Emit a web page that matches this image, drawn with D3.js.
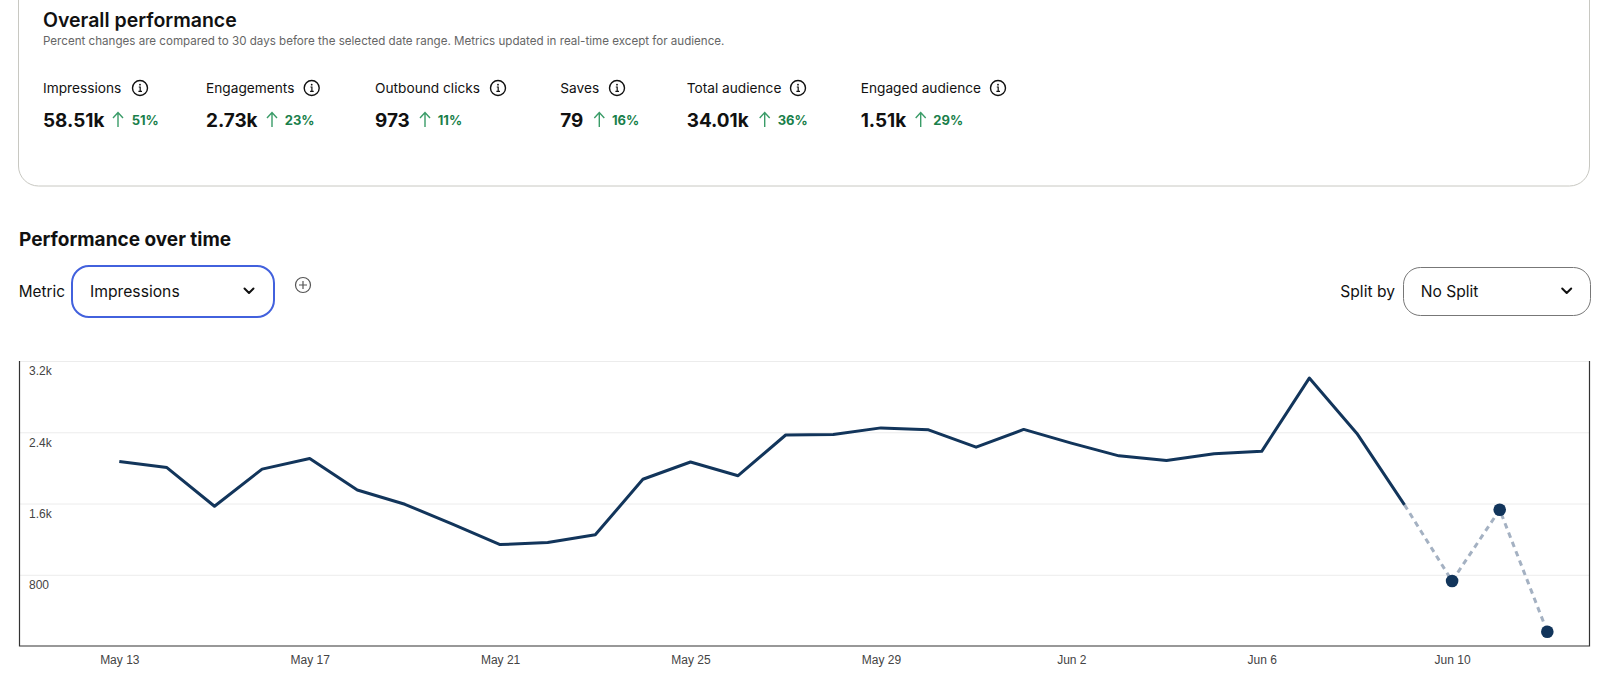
<!DOCTYPE html>
<html><head><meta charset="utf-8">
<script src="https://cdn.jsdelivr.net/npm/d3@7"></script>
<style>
html,body{margin:0;padding:0;background:#fff;overflow:hidden}
svg{display:block}
text{font-family:Inter,"Noto Sans",sans-serif;fill:#111}
.axis text{font-family:"Liberation Sans",Arial,sans-serif;font-size:12px;fill:#444}
</style></head><body>
<svg id="c" width="1599" height="681"></svg>
<script>
// ---- data ----
const kpiLabels=["Impressions","Engagements","Outbound clicks","Saves","Total audience","Engaged audience"];
const kpiValues=["58.51k","2.73k","973","79","34.01k","1.51k"];
const kpiChanges=["51%","23%","11%","16%","36%","29%"];
const days=["May 13","May 14","May 15","May 16","May 17","May 18","May 19","May 20","May 21","May 22","May 23","May 24","May 25","May 26","May 27","May 28","May 29","May 30","May 31","Jun 1","Jun 2","Jun 3","Jun 4","Jun 5","Jun 6","Jun 7","Jun 8","Jun 9","Jun 10","Jun 11","Jun 12"];
const impressions=[2072,2003,1569,1986,2106,1752,1591,1368,1139,1162,1248,1872,2066,1912,2369,2375,2449,2427,2232,2432,2278,2135,2083,2158,2186,3008,2387,1585,730,1530,160];
const settledCount=28; // days with final data; the rest are drawn dashed
const yTicks=[800,1600,2400,3200];
const yTickLabels=["800","1.6k","2.4k","3.2k"];
const xTicks=["May 13","May 17","May 21","May 25","May 29","Jun 2","Jun 6","Jun 10"];

// ---- layout ----
const kpiX=[43,206,375,560.3,686.7,860.7];
const kpiIconX=[140,311.7,498,617,798,998];
const kpiArrowX=[118,272,425,599.3,764.7,920.7];
const kpiPctX=[131.7,284.7,437.7,612,777.7,933.3];
const plot={left:19.5,right:1589.5,top:361,bottom:646};

const svg=d3.select("#c");
const parse=d3.timeParse("%Y %b %-d");
const toDate=s=>parse("2024 "+s);
const fmt=d3.timeFormat("%b %-d");

const x=d3.scaleTime().domain([toDate("May 13"),toDate("Jun 12")]).range([119.3,1547.3]);
const y=d3.scaleLinear().domain([0,3200]).range([plot.bottom,plot.top]);

function tx(s,xp,yp,size,weight,fill,extra){
  const t=svg.append("text").attr("x",xp).attr("y",yp).attr("font-size",size).attr("font-weight",weight).style("fill",fill).attr("dominant-baseline","central").text(s);
  if(extra)t.style("letter-spacing",extra);
  return t;
}
function chevron(cx,cy){
  svg.append("path").attr("d",`M${cx-4.5},${cy-2.5}L${cx},${cy+2}L${cx+4.5},${cy-2.5}`).attr("fill","none").attr("stroke","#111").attr("stroke-width",2).attr("stroke-linecap","round").attr("stroke-linejoin","round");
}
function info(cx,cy){
  svg.append("circle").attr("cx",cx).attr("cy",cy).attr("r",7.5).attr("fill","none").attr("stroke","#111").attr("stroke-width",1.4);
  svg.append("path").attr("d",`M${cx-1.2},${cy-1}H${cx+.2}V${cy+3.4}M${cx-1.6},${cy+3.4}H${cx+2}`).attr("fill","none").attr("stroke","#111").attr("stroke-width",1.2);
  svg.append("circle").attr("cx",cx).attr("cy",cy-3.3).attr("r",.9).attr("fill","#111");
}

// card
svg.append("rect").attr("x",18.5).attr("y",-40).attr("width",1571).attr("height",226).attr("rx",20).attr("fill","#fff").attr("stroke","#c8c8c2").attr("stroke-width",1);

tx("Overall performance",43,20,19.5,600,"#111");
tx("Percent changes are compared to 30 days before the selected date range. Metrics updated in real-time except for audience.",43,41,11.6,400,"#666");

kpiLabels.forEach((l,i)=>{
  tx(l,kpiX[i],87.5,13.7,400,"#111");
  info(kpiIconX[i],88);
  tx(kpiValues[i],kpiX[i],120,18.9,700,"#111");
  const ax=kpiArrowX[i];
  svg.append("path").attr("d",`M${ax},127V113M${ax-5},118L${ax},112.5L${ax+5},118`).attr("fill","none").attr("stroke","#3a9c68").attr("stroke-width",1.4);
  tx(kpiChanges[i],kpiPctX[i],119.5,13,700,"#1a7f4b");
});

tx("Performance over time",19,239,19,700,"#111");
tx("Metric",18.7,291,15.3,400,"#111");
svg.append("rect").attr("x",72).attr("y",266).attr("width",202).attr("height",51).attr("rx",17).attr("fill","#fff").attr("stroke","#4261dd").attr("stroke-width",2);
tx("Impressions",90,291,15.7,400,"#111");
chevron(249,291);
svg.append("circle").attr("cx",303).attr("cy",285).attr("r",7.5).attr("fill","none").attr("stroke","#555").attr("stroke-width",1.2);
svg.append("path").attr("d","M299,285H307M303,281V289").attr("stroke","#555").attr("stroke-width",1.2);

tx("Split by",1340.3,291,15.6,400,"#111");
svg.append("rect").attr("x",1403.5).attr("y",267.5).attr("width",187).attr("height",48).attr("rx",17).attr("fill","#fff").attr("stroke","#777").attr("stroke-width",1);
tx("No Split",1420.7,291,15.6,400,"#111");
chevron(1566.7,291);

// y axis with gridlines and labels inside the plot
const yAxis=d3.axisRight(y).tickValues(yTicks).tickSize(plot.right-plot.left)
  .tickFormat(d=>yTickLabels[yTicks.indexOf(d)]);
const gy=svg.append("g").attr("class","axis").attr("transform",`translate(${plot.left},0)`).call(yAxis);
gy.select(".domain").remove();
gy.selectAll(".tick line").attr("stroke","#ececec");
gy.selectAll(".tick text").attr("x",9.5).attr("dy",0).attr("y",d=>d===3200?9:10).attr("text-anchor","start").attr("dominant-baseline","central");

// x axis
const xAxis=d3.axisBottom(x).tickValues(xTicks.map(toDate)).tickSize(0).tickPadding(0).tickFormat(fmt);
const gx=svg.append("g").attr("class","axis").attr("transform",`translate(0,${plot.bottom})`).call(xAxis);
gx.select(".domain").remove();
gx.selectAll(".tick text").attr("y",13.5).attr("dy",0).attr("dominant-baseline","central");

// frame
svg.append("path").attr("d",`M${plot.left},${plot.top}V${plot.bottom}H${plot.right}V${plot.top}`).attr("fill","none").attr("stroke","#333").attr("stroke-width",1.2);

// series
const pts=days.map((d,i)=>({date:toDate(d),v:impressions[i]}));
const line=d3.line().x(d=>x(d.date)).y(d=>y(d.v));
svg.append("path").datum(pts.slice(settledCount-1)).attr("d",line).attr("fill","none").attr("stroke","#a4b1c2").attr("stroke-width",3).attr("stroke-dasharray","5.5 4.5");
svg.append("path").datum(pts.slice(0,settledCount)).attr("d",line).attr("fill","none").attr("stroke","#12355b").attr("stroke-width",3).attr("stroke-linejoin","round");
svg.selectAll("circle.pt").data(pts.slice(settledCount)).join("circle").attr("class","pt")
  .attr("cx",d=>x(d.date)).attr("cy",d=>y(d.v)).attr("r",6.3).attr("fill","#12355b");
</script>
</body></html>
